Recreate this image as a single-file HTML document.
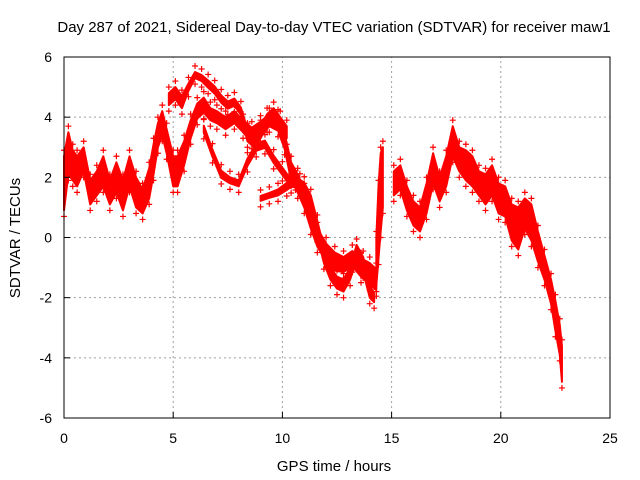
<!DOCTYPE html>
<html><head><meta charset="utf-8">
<style>
body{margin:0;background:#fff;}
svg{display:block;font-family:"Liberation Sans",sans-serif;}
</style></head>
<body>
<svg id="chart" width="640" height="480">
<text x="334" y="32" font-size="15" text-anchor="middle">Day 287 of 2021, Sidereal Day-to-day VTEC variation (SDTVAR) for receiver maw1</text>
<text x="334" y="471" font-size="15" text-anchor="middle">GPS time / hours</text>
<text x="20" y="238" font-size="15" text-anchor="middle" transform="rotate(-90 20 238)">SDTVAR / TECUs</text>
<g id="grid"></g><g id="marks"></g><g id="axes"></g>
</svg>
<script>
const xTicks=[0,5,10,15,20,25];
const yTicks=[-6,-4,-2,0,2,4,6];
const trackA_t=[0,0.2,0.4,0.6,0.9,1.2,1.5,1.8,2.1,2.4,2.7,3,3.3,3.6,3.9,4.1,4.3,4.5,4.7,5,5.2,5.5,5.8,6.1,6.4,6.7,7,7.4,7.8,8.2,8.6,9,9.4,9.8,10.1,10.4,10.7,11,11.3,11.6,12,12.4,12.8,13.2,13.6,14,14.3];
const trackA_v=[1.8,2.8,2.4,2.2,2.6,1.5,1.8,2.2,1.5,2,1.4,2.2,1.5,1.2,1.8,2.6,3.4,3.8,3.2,2.2,2.2,2.8,3.6,4.2,4.4,4.1,4,3.8,4,3.7,3.4,3.6,3.9,3.8,3.2,2.2,1.8,1.3,0.6,0,-0.5,-0.8,-0.9,-0.7,-1,-1.2,-1.4];
const trackA_s=[0.9,0.7,0.5,0.5,0.4,0.4,0.4,0.5,0.4,0.5,0.5,0.5,0.5,0.4,0.5,0.5,0.4,0.4,0.4,0.5,0.5,0.4,0.3,0.25,0.25,0.2,0.2,0.2,0.2,0.2,0.25,0.25,0.2,0.25,0.25,0.3,0.3,0.3,0.3,0.3,0.3,0.3,0.25,0.25,0.3,0.35,0.35];
const trackB_t=[4.8,5.1,5.4,5.7,6,6.3,6.6,6.9,7.2,7.5,7.8,8.1,8.4,8.7,9,9.3,9.6,9.9,10.2];
const trackB_v=[4.6,4.8,4.5,5,5.4,5.3,5.1,4.9,4.6,4.4,4.5,4.2,3.4,3.2,3.5,3.9,4.1,3.8,3.5];
const trackB_s=[0.2,0.2,0.2,0.12,0.1,0.1,0.12,0.12,0.12,0.12,0.12,0.12,0.2,0.2,0.2,0.2,0.2,0.2,0.2];
const trackC_t=[6.4,6.8,7.2,7.6,8,8.4,8.8,9.2,9.6,10,10.4,10.8];
const trackC_v=[3.6,2.8,2.1,1.9,1.8,2.5,3.0,3.1,2.6,2.2,1.8,1.8];
const trackC_s=[0.12,0.12,0.12,0.1,0.1,0.12,0.12,0.12,0.12,0.12,0.12,0.12];
const trackD_t=[9,9.4,9.8,10.2,10.6,11,11.3,11.6,11.9,12.2,12.5,12.8,13.1,13.4,13.7,14,14.2];
const trackD_v=[1.3,1.4,1.5,1.7,1.9,1.7,1.2,0.3,-0.6,-1.2,-1.5,-1.6,-1.2,-0.5,-0.9,-1.8,-2];
const trackD_s=[0.08,0.08,0.1,0.12,0.12,0.12,0.2,0.25,0.25,0.2,0.2,0.2,0.2,0.25,0.25,0.2,0.15];
const trackE_t=[14.3,14.4,14.5,14.6];
const trackE_v=[-0.8,0.5,1.5,2];
const trackE_s=[0.8,1.2,1.3,1];
const trackF_t=[15.1,15.4,15.7,16,16.3,16.6,16.9,17.2,17.5,17.8,18.1,18.4,18.7,19,19.3,19.6,19.9,20.2,20.5,20.8,21.1,21.4,21.7,22,22.3,22.5,22.7,22.8];
const trackF_v=[1.8,2,1.3,0.8,0.6,1.3,2.3,1.6,2.2,3.2,2.6,2.4,2.2,1.8,1.6,1.9,1.3,1.2,0.5,0.3,0.8,0.5,-0.3,-1,-1.8,-2.6,-3.4,-4.2];
const trackF_s=[0.4,0.4,0.4,0.4,0.4,0.5,0.5,0.4,0.5,0.5,0.4,0.5,0.5,0.4,0.5,0.5,0.5,0.5,0.6,0.7,0.5,0.6,0.5,0.4,0.4,0.5,0.5,0.6];
const tracks=[[trackA_t,trackA_v,trackA_s],[trackB_t,trackB_v,trackB_s],[trackC_t,trackC_v,trackC_s],[trackD_t,trackD_v,trackD_s],[trackE_t,trackE_v,trackE_s],[trackF_t,trackF_v,trackF_s]];
const X0=64,X1=610,Y0=418,Y1=57;
const sx=v=>X0+(v-0)/25*(X1-X0);
const sy=v=>Y0-(v+6)/12*(Y0-Y1);
const NS="http://www.w3.org/2000/svg";
function mk(tag,attrs,parent){const e=document.createElementNS(NS,tag);for(const k in attrs)e.setAttribute(k,attrs[k]);parent.appendChild(e);return e;}
const grid=document.getElementById('grid'),axes=document.getElementById('axes'),marks=document.getElementById('marks');
xTicks.forEach(t=>{
  if(t>0&&t<25){const g=mk('line',{x1:sx(t),x2:sx(t),y1:Y0,y2:Y1,stroke:'#a0a0a0','stroke-dasharray':'2,3'},grid);
  
  }
  const tk=mk('line',{x1:sx(t),x2:sx(t),y1:Y0,y2:Y0-6,stroke:'#000'},axes);
  
  
  const l=mk('text',{x:sx(t),y:443,'font-size':14,'text-anchor':'middle'},axes);l.textContent=t;
  
  
});
yTicks.forEach(t=>{
  if(t>-6&&t<6){const g=mk('line',{x1:X0,x2:X1,y1:sy(t),y2:sy(t),stroke:'#a0a0a0','stroke-dasharray':'2,3'},grid);
  
  }
  const tk=mk('line',{x1:X0,x2:X0+6,y1:sy(t),y2:sy(t),stroke:'#000'},axes);
  
  
  const l=mk('text',{x:52,y:sy(t)+5,'font-size':14,'text-anchor':'end'},axes);l.textContent=t;
  
  
});
const fr=mk('rect',{x:X0,y:Y1,width:X1-X0,height:Y0-Y1,fill:'none',stroke:'#000'},axes);


tracks.forEach(([T,V,S])=>{
  const up=T.map((t,i)=>sx(t)+','+sy(V[i]+S[i]));
  const dn=T.map((t,i)=>sx(t)+','+sy(V[i]-S[i])).reverse();
  const band=mk('polygon',{points:up.concat(dn).join(' '),fill:'#ff0000',stroke:'#ff0000','stroke-width':2,'stroke-linejoin':'round'},marks);
  
  
  T.forEach((t,i)=>{
    [V[i]-S[i]-0.2,V[i]+S[i]+0.2].forEach(v=>{
      const x=sx(t),y=sy(v);
      const p=mk('path',{d:`M${x-3},${y}h6M${x},${y-3}v6`,stroke:'#ff0000','stroke-width':1.2},marks);
      
      
    });
  });
});
</script>
</body></html>
